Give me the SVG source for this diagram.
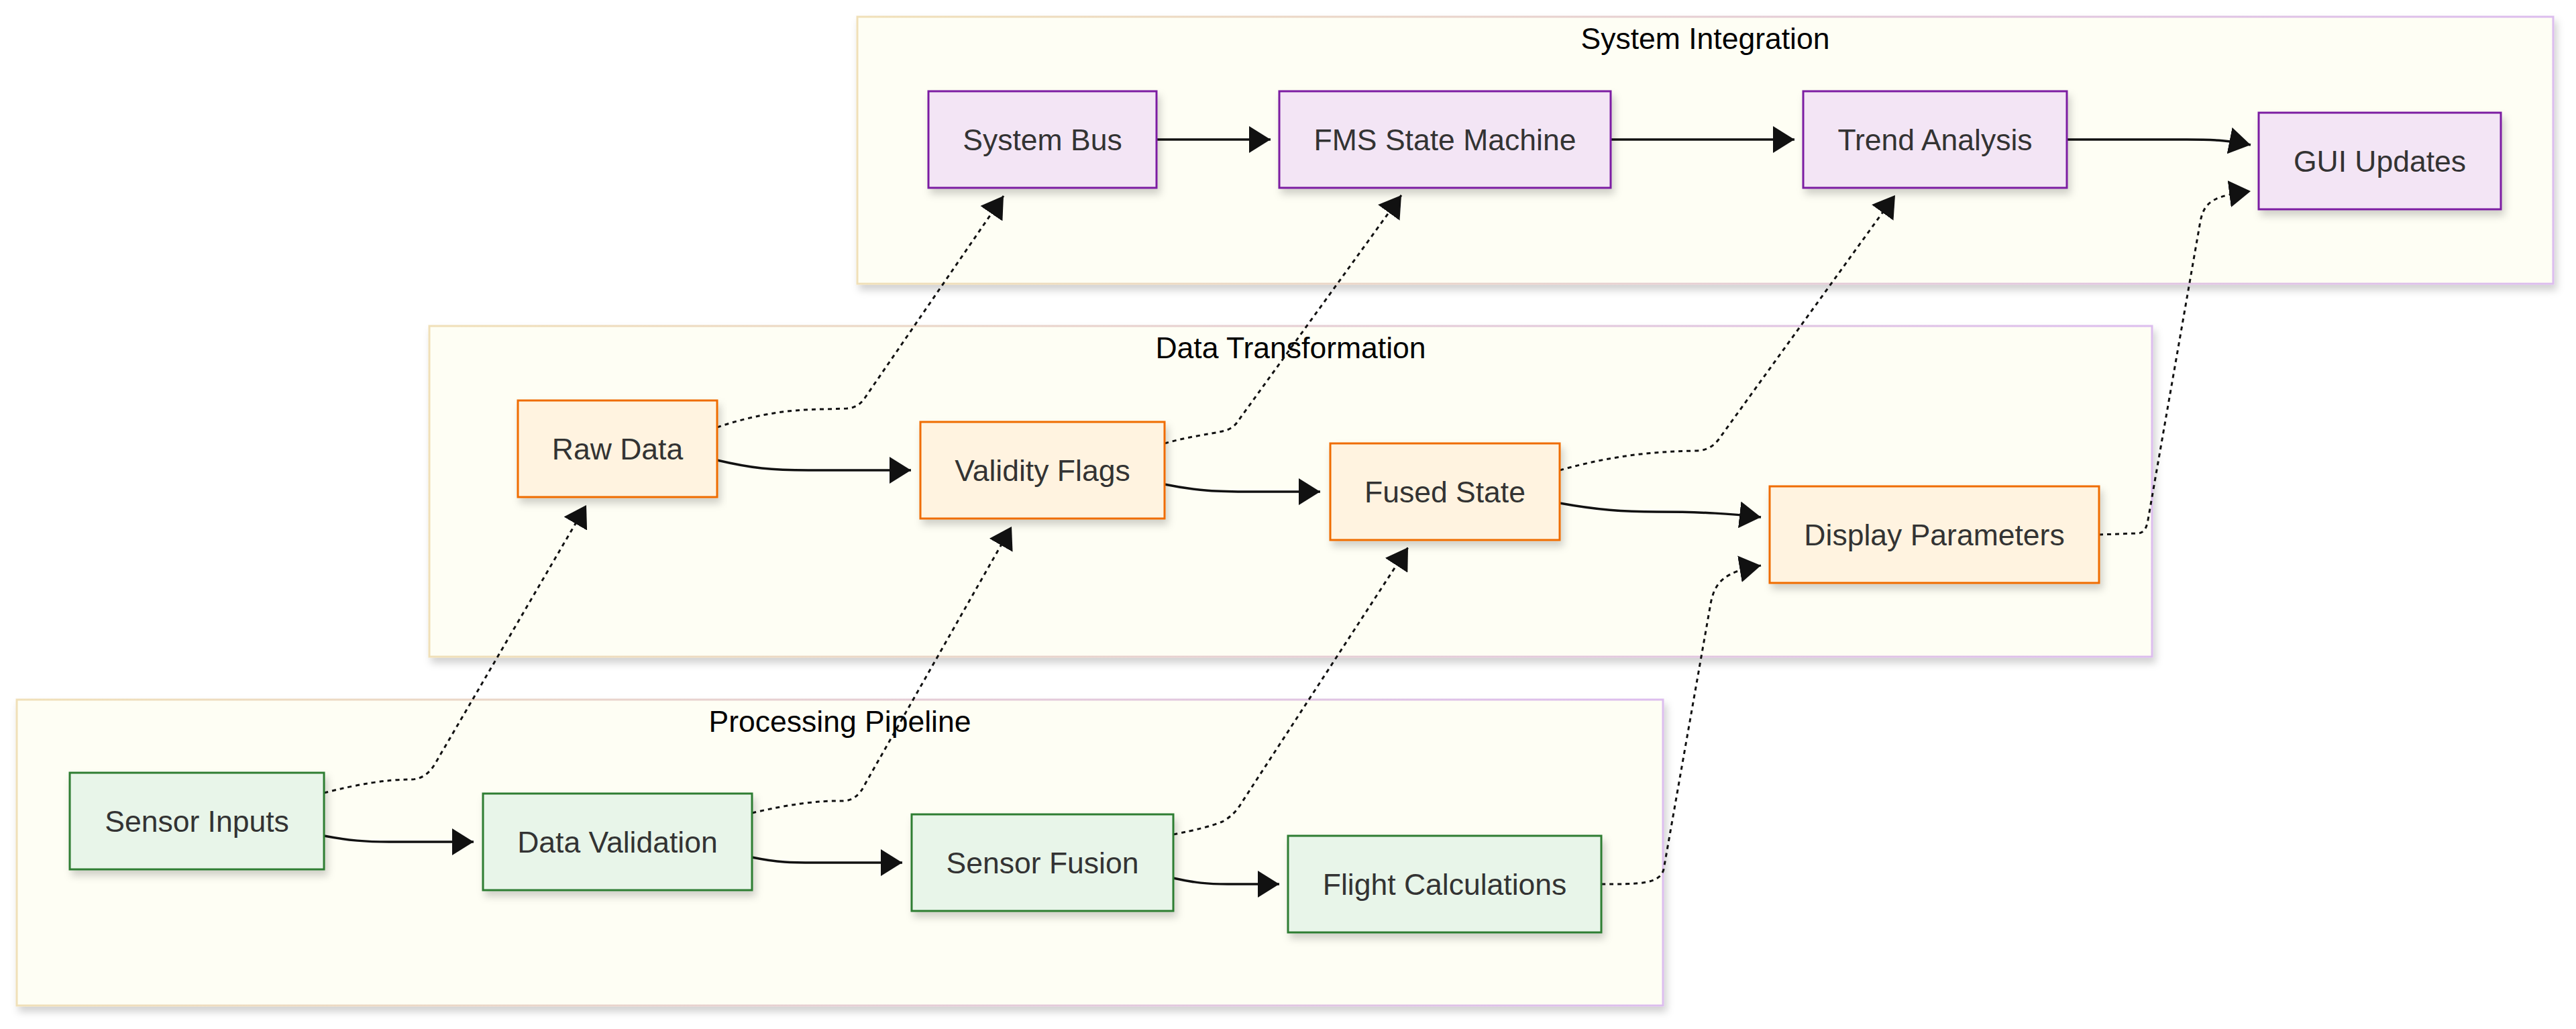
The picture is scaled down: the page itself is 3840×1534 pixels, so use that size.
<svg xmlns="http://www.w3.org/2000/svg" width="3840" height="1534" viewBox="0 0 3840 1534">
<style>
.cluster{stroke-width:3;filter:url(#sh)}
.ctitle{font-family:"Liberation Sans",Arial,sans-serif;font-size:44.5px;fill:#000;text-anchor:middle}
.node rect{stroke-width:3;filter:url(#sh)}
.node text{font-family:"Liberation Sans",Arial,sans-serif;font-size:44.5px;fill:#333;text-anchor:middle}
.purple rect{fill:#f3e5f5;stroke:#7b1fa2}
.orange rect{fill:#fff3e0;stroke:#ef6c00}
.green rect{fill:#e8f5e9;stroke:#2e7d32}
.solid{fill:none;stroke:#111;stroke-width:3.5;marker-end:url(#arr)}
.dot{fill:none;stroke:#111;stroke-width:3;stroke-dasharray:6 6;marker-end:url(#arr)}
</style>
<defs>
<linearGradient id="cg" x1="0" y1="0" x2="1" y2="0">
<stop offset="0" stop-color="#f0e0b8"/>
<stop offset="1" stop-color="#dcbdee"/>
</linearGradient>
<filter id="sh" x="-5%" y="-10%" width="110%" height="130%">
<feDropShadow dx="4" dy="8" stdDeviation="6" flood-color="#000" flood-opacity="0.18"/>
</filter>
<marker id="arr" markerUnits="userSpaceOnUse" markerWidth="32" markerHeight="40" viewBox="0 0 32 40" refX="32" refY="20" orient="auto">
<path d="M0,0 L32,20 L0,40 z" fill="#111"/>
</marker>
</defs>
<rect width="3840" height="1534" fill="#ffffff"/>
<g id="cluster-system-integration">
<rect class="cluster" x="1278" y="25" width="2528" height="398" fill="#fefef4" stroke="url(#cg)"/>
<text class="ctitle" x="2542" y="73">System Integration</text>
</g>
<g id="cluster-data-transformation">
<rect class="cluster" x="640" y="486" width="2568" height="493" fill="#fefef4" stroke="url(#cg)"/>
<text class="ctitle" x="1924" y="534">Data Transformation</text>
</g>
<g id="cluster-processing-pipeline">
<rect class="cluster" x="25" y="1043" width="2454" height="456" fill="#fefef4" stroke="url(#cg)"/>
<text class="ctitle" x="1252" y="1091">Processing Pipeline</text>
</g>
<g id="connectors">
<path class="solid" d="M1724,208 L1894,208"/>
<path class="solid" d="M2401,208 L2675,208"/>
<path class="solid" d="M3081,208 L3260,208 C3305,208 3325,210 3355,216"/>
<path class="solid" d="M1069,686 C1120,698 1150,701 1205,701 L1358,701"/>
<path class="solid" d="M1736,722 C1785,732 1815,733 1865,733 L1968,733"/>
<path class="solid" d="M2325,750 C2380,760 2420,763 2470,763 C2540,763 2580,766 2625,771"/>
<path class="solid" d="M483,1246 C520,1253 545,1255 580,1255 L706,1255"/>
<path class="solid" d="M1121,1278 C1160,1286 1180,1286 1215,1286 L1345,1286"/>
<path class="solid" d="M1749,1309 C1780,1316 1800,1318 1830,1318 L1907,1318"/>
<path class="dot" d="M483,1182 Q560,1162 612,1162 Q636,1162 650,1136 L874,753"/>
<path class="dot" d="M1121,1212 Q1200,1193 1256,1194 Q1278,1194 1290,1168 L1508,785"/>
<path class="dot" d="M1749,1244 Q1800,1234 1822,1225 Q1840,1215 1850,1198 L2099,816"/>
<path class="dot" d="M2387,1318 C2440,1318 2474,1319 2480,1296 L2550,900 C2556,868 2570,852 2625,843"/>
<path class="dot" d="M1069,637 C1120,620 1170,610 1230,610 L1262,609 Q1280,608 1290,592 L1496,292"/>
<path class="dot" d="M1736,661 C1775,650 1800,648 1822,643 Q1838,640 1846,627 L2089,291"/>
<path class="dot" d="M2325,701 C2400,680 2460,673 2530,672 Q2550,671 2562,655 L2825,291"/>
<path class="dot" d="M3129,797 L3188,795 Q3199,794 3202,775 L3280,330 C3286,300 3300,292 3355,285"/>
</g>
<g id="node-system-bus" class="node purple"><rect x="1384" y="136" width="340" height="144"/><text x="1554" y="224">System Bus</text></g>
<g id="node-fms-state-machine" class="node purple"><rect x="1907" y="136" width="494" height="144"/><text x="2154" y="224">FMS State Machine</text></g>
<g id="node-trend-analysis" class="node purple"><rect x="2688" y="136" width="393" height="144"/><text x="2884.5" y="224">Trend Analysis</text></g>
<g id="node-gui-updates" class="node purple"><rect x="3367" y="168" width="361" height="144"/><text x="3547.5" y="256">GUI Updates</text></g>
<g id="node-raw-data" class="node orange"><rect x="772" y="597" width="297" height="144"/><text x="920.5" y="685">Raw Data</text></g>
<g id="node-validity-flags" class="node orange"><rect x="1372" y="629" width="364" height="144"/><text x="1554" y="717">Validity Flags</text></g>
<g id="node-fused-state" class="node orange"><rect x="1983" y="661" width="342" height="144"/><text x="2154" y="749">Fused State</text></g>
<g id="node-display-parameters" class="node orange"><rect x="2638" y="725" width="491" height="144"/><text x="2883.5" y="813">Display Parameters</text></g>
<g id="node-sensor-inputs" class="node green"><rect x="104" y="1152" width="379" height="144"/><text x="293.5" y="1240">Sensor Inputs</text></g>
<g id="node-data-validation" class="node green"><rect x="720" y="1183" width="401" height="144"/><text x="920.5" y="1271">Data Validation</text></g>
<g id="node-sensor-fusion" class="node green"><rect x="1359" y="1214" width="390" height="144"/><text x="1554" y="1302">Sensor Fusion</text></g>
<g id="node-flight-calculations" class="node green"><rect x="1920" y="1246" width="467" height="144"/><text x="2153.5" y="1334">Flight Calculations</text></g>
</svg>
